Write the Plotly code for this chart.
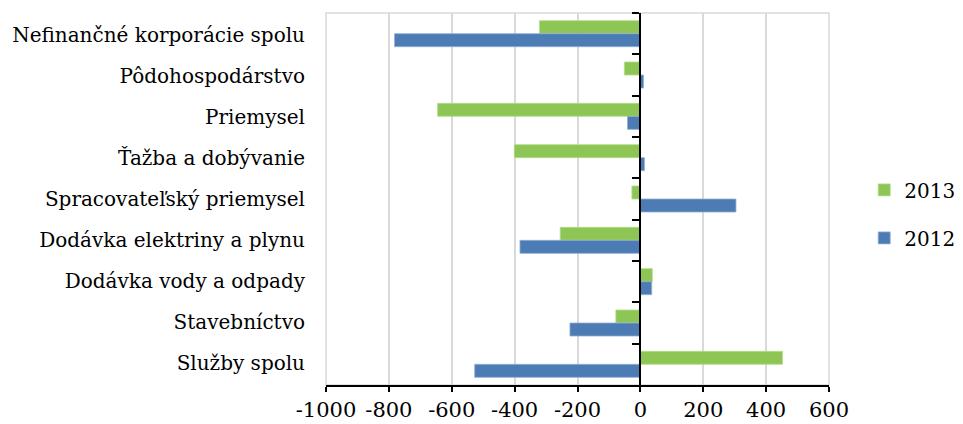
import plotly.graph_objects as go

# Sector categories, listed top to bottom
categories = [
    "Nefinančné korporácie spolu",
    "Pôdohospodárstvo",
    "Priemysel",
    "Ťažba a dobývanie",
    "Spracovateľský priemysel",
    "Dodávka elektriny a plynu",
    "Dodávka vody a odpady",
    "Stavebníctvo",
    "Služby spolu",
]

values_2013 = [-321, -51, -645, -401, -27, -255, 38, -78, 452]
values_2012 = [-782, 10, -41, 13, 304, -383, 36, -224, -527]

x_ticks = [-1000, -800, -600, -400, -200, 0, 200, 400, 600]

GREEN = "#8EC655"
BLUE = "#4D7CB5"
FONT = "DejaVu Serif"

fig = go.Figure()

fig.add_trace(go.Bar(
    name="2013", y=categories, x=values_2013, orientation="h",
    marker=dict(color=GREEN, line=dict(color="#B5DC8C", width=0.8)),
    legendgroup="a",
))
fig.add_trace(go.Bar(
    name="2012", y=categories, x=values_2012, orientation="h",
    marker=dict(color=BLUE, line=dict(color="#8FAED6", width=0.8)),
    legendgroup="b",
))

# invisible carrier for the category labels on the left edge
fig.add_trace(go.Scatter(
    y=categories, x=[0] * len(categories), yaxis="y2",
    mode="markers", marker=dict(opacity=0), showlegend=False, hoverinfo="skip",
))

zero_pos = (0 - x_ticks[0]) / (x_ticks[-1] - x_ticks[0])

fig.update_layout(
    width=963, height=424,
    margin=dict(l=326, r=134, t=13, b=39, autoexpand=False),
    paper_bgcolor="white", plot_bgcolor="white",
    barmode="group", bargap=0.37, bargroupgap=0,
    font=dict(family=FONT, size=19, color="black"),
    xaxis=dict(
        range=[x_ticks[0], x_ticks[-1]],
        tickvals=x_ticks, ticktext=[str(v) for v in x_ticks],
        showgrid=True, gridcolor="#D9D9D9", gridwidth=1.5,
        zeroline=False,
        showline=True, linecolor="black", linewidth=2,
        ticks="outside", ticklen=5, tickcolor="black", tickwidth=1.5,
        tickfont=dict(family=FONT, size=21),
    ),
    yaxis=dict(
        type="category", categoryorder="array", categoryarray=categories,
        autorange="reversed",
        anchor="free", position=zero_pos,
        showticklabels=False, showgrid=False, zeroline=False,
        showline=True, linecolor="black", linewidth=2,
        ticks="outside", tickson="boundaries", ticklen=7,
        tickcolor="black", tickwidth=1.5,
    ),
    yaxis2=dict(
        type="category", categoryorder="array", categoryarray=categories,
        autorange="reversed", overlaying="y", side="left", anchor="x",
        showgrid=False, zeroline=False, showline=False, ticks="",
        tickfont=dict(family=FONT, size=20), ticklabelstandoff=20,
    ),
    legend=dict(
        x=1.07, y=0.46, xanchor="left", yanchor="middle",
        font=dict(family=FONT, size=20),
        tracegroupgap=19, itemwidth=30,
    ),
    shapes=[dict(
        type="rect", xref="paper", yref="paper", x0=0, x1=1, y0=0, y1=1,
        line=dict(color="#D9D9D9", width=1.5), layer="below",
    )],
)

fig.write_html("out.html")
